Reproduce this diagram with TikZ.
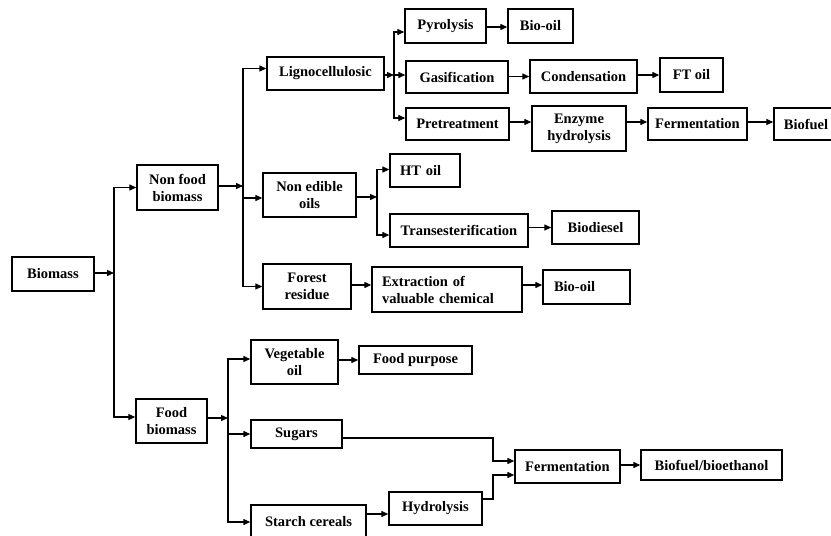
\documentclass[tikz,border=0pt]{standalone}
\usepackage{fontspec}
\setmainfont{Liberation Serif}
\usetikzlibrary{arrows.meta}
\begin{document}
\begin{tikzpicture}[x=1pt,y=-1pt,
 bx/.style={draw, line width=1.4pt, inner sep=0pt, align=center, font=\fontsize{14.5}{17}\selectfont\bfseries},
 arr/.style={line width=1.3pt, -{Triangle[length=7pt,width=6pt]}},
 ln/.style={line width=1.3pt}]
\useasboundingbox (0,0) rectangle (831,536);
\clip (0,0) rectangle (831,536);
% boxes
\node[bx, minimum width=82pt, minimum height=34pt] (bio) at (53,274) {Biomass};
\node[bx, minimum width=81pt, minimum height=45pt] (nonfood) at (177.5,187.5) {Non food\\biomass};
\node[bx, minimum width=71pt, minimum height=44pt] (food) at (171.5,421) {Food\\biomass};
\node[bx, minimum width=117pt, minimum height=33pt] (ligno) at (325.5,73.5) {Lignocellulosic};
\node[bx, minimum width=93pt, minimum height=44pt] (nonedible) at (309.5,195) {Non edible\\oils};
\node[bx, minimum width=88pt, minimum height=45pt] (forest) at (307,286.5) {Forest\\residue};
\node[bx, minimum width=81pt, minimum height=34pt] (pyro) at (445.5,26) {Pyrolysis};
\node[bx, minimum width=102pt, minimum height=32pt] (gasif) at (457,77) {Gasification};
\node[bx, minimum width=103pt, minimum height=32pt] (pretreat) at (457.5,124) {Pretreatment};
\node[bx, minimum width=65pt, minimum height=34pt] (biooilA) at (540.5,26) {Bio-oil};
\node[bx, minimum width=107pt, minimum height=33pt] (conden) at (583.5,76.5) {Condensation};
\node[bx, minimum width=63pt, minimum height=34pt] (ftoil) at (691.5,75) {FT oil};
\node[bx, minimum width=94pt, minimum height=45pt] (enzyme) at (579,128.5) {Enzyme\\hydrolysis};
\node[bx, minimum width=99pt, minimum height=32pt] (fermA) at (697.5,124) {Fermentation};
\node[bx, minimum width=64pt, minimum height=32pt] (biofuel) at (806,124) {Biofuel};
\node[bx, minimum width=70pt, minimum height=33pt, align=left, text width=50pt] (htoil) at (425,170.5) {HT oil};
\node[bx, minimum width=138pt, minimum height=33pt] (trans) at (459,230.5) {Transesterification};
\node[bx, minimum width=87pt, minimum height=33pt] (biodiesel) at (595.5,227.5) {Biodiesel};
\node[bx, minimum width=150pt, minimum height=45pt, align=left, text width=130pt] (extract) at (447,289.5) {Extraction of\\valuable chemical};
\node[bx, minimum width=87pt, minimum height=34pt, align=left, text width=65pt] (biooilB) at (586.5,287) {Bio-oil};
\node[bx, minimum width=87pt, minimum height=44pt] (veg) at (294.5,362) {Vegetable\\oil};
\node[bx, minimum width=113pt, minimum height=28pt] (foodp) at (415.5,360) {Food purpose};
\node[bx, minimum width=91pt, minimum height=28pt] (sugars) at (296.5,434) {Sugars};
\node[bx, minimum width=115pt, minimum height=33pt] (starch) at (308.5,521.5) {Starch cereals};
\node[bx, minimum width=93pt, minimum height=33pt] (hydro) at (435.5,508.5) {Hydrolysis};
\node[bx, minimum width=105pt, minimum height=33pt] (fermB) at (567.5,466.5) {Fermentation};
\node[bx, minimum width=141pt, minimum height=30pt] (bioeth) at (711.5,465) {Biofuel/bioethanol};
% junctions
\coordinate (j1) at (114,273);
\coordinate (j2) at (243,186);
\coordinate (j3) at (394,75);
\coordinate (j4) at (377,197);
\coordinate (j5) at (228,418);
\coordinate (jsug) at (493,438);
\coordinate (jhyd) at (493,499);
% level 1
\draw[arr] (bio.east |- j1) -- (j1);
\draw[arr] (j1) |- (nonfood.west);
\draw[arr] (j1) |- ([yshift=4pt]food.west);
% non food
\draw[arr] (nonfood.east |- j2) -- (j2);
\draw[arr] (j2) |- ([yshift=5pt]ligno.west);
\draw[arr] (j2) |- ([yshift=-3pt]nonedible.west);
\draw[arr] (j2) |- (forest.west);
% lignocellulosic
\draw[arr] (ligno.east |- j3) -- (j3);
\draw[arr] (j3) |- ([yshift=-6pt]pyro.west);
\draw[arr] (j3) |- ([yshift=2pt]gasif.west);
\draw[arr] (j3) |- ([yshift=6pt]pretreat.west);
\draw[arr] ([yshift=-1pt]pyro.east) -- ([yshift=-1pt]biooilA.west);
\draw[arr] (gasif.east |- conden.west) -- (conden.west);
\draw[arr] (conden.east |- ftoil.west) -- (ftoil.west);
\draw[arr] ([yshift=2pt]pretreat.east) -- ([yshift=2pt]pretreat.east -| enzyme.west);
\draw[arr] ([yshift=2pt]pretreat.east -| enzyme.east) -- ([yshift=2pt]fermA.west);
\draw[arr] ([yshift=2pt]fermA.east) -- ([yshift=2pt]biofuel.west);
% non edible oils
\draw[arr] (nonedible.east |- j4) -- (j4);
\draw[arr] (j4) |- ([yshift=1pt]htoil.west);
\draw[arr] (j4) |- ([yshift=-4.5pt]trans.west);
\draw[arr] (trans.east |- biodiesel.west) -- (biodiesel.west);
% forest
\draw[arr] ([yshift=1.5pt]forest.east) -- ([yshift=1.5pt]forest.east -| extract.west);
\draw[arr] ([yshift=1.5pt]forest.east -| extract.east) -- ([yshift=1.5pt]forest.east -| biooilB.west);
% food
\draw[arr] (food.east |- j5) -- (j5);
\draw[arr] (j5) |- ([yshift=3pt]veg.west);
\draw[arr] (j5) |- (sugars.west);
\draw[arr] (j5) |- ([yshift=-0.5pt]starch.west);
\draw[arr] (veg.east |- foodp.west) -- (foodp.west);
\draw[arr] ([yshift=7.5pt]starch.east) -- ([yshift=7.5pt]starch.east -| hydro.west);
\draw[arr] (sugars.east |- jsug) -- (jsug) -- (jsug |- 0,461) -- (fermB.west |- 0,461);
\draw[arr] (hydro.east |- jhyd) -- (jhyd) -- (jhyd |- 0,475) -- (fermB.west |- 0,475);
\draw[arr] (fermB.east |- bioeth.west) -- (bioeth.west);
\end{tikzpicture}
\end{document}
